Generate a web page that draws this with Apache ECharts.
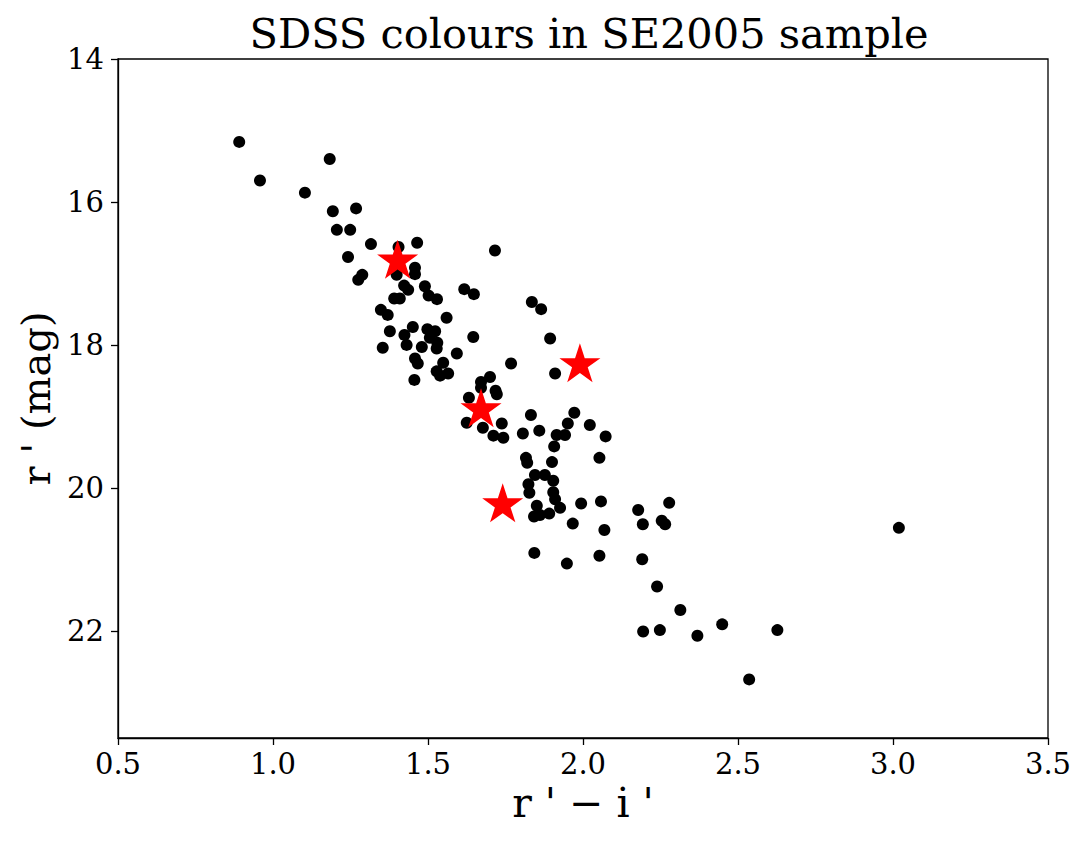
<!DOCTYPE html>
<html>
<head>
<meta charset="utf-8">
<title>SDSS colours in SE2005 sample</title>
<script src="https://cdn.jsdelivr.net/npm/echarts@6/dist/echarts.min.js"></script>
<style>
  html, body { margin: 0; padding: 0; background: #fff; }
  #chart { width: 1089px; height: 848px; }
</style>
</head>
<body>
<div id="chart"></div>
<script>
// r' - i' colour of the sample galaxies
const sampleColour = [
  0.891, 0.958, 1.183, 1.103, 1.193, 1.268, 1.206, 1.249, 1.316, 1.465,
  1.405, 1.716, 1.242, 1.458, 1.458, 1.288, 1.275, 1.399, 1.423, 1.436,
  1.490, 1.502, 1.529, 1.617, 1.648, 1.391, 1.409, 1.348, 1.370, 1.560,
  1.835, 1.865, 1.377, 1.451, 1.498, 1.523, 1.506, 1.424, 1.431, 1.354,
  1.480, 1.530, 1.528, 1.646, 1.894, 1.593, 1.458, 1.467, 1.549, 1.528,
  1.539, 1.565, 1.768, 1.910, 1.456, 1.700, 1.671, 1.671, 1.718, 1.722,
  1.632, 1.625, 1.677, 1.711, 1.743, 1.738, 1.832, 1.806, 1.859, 1.972,
  1.951, 1.915, 1.942, 1.907, 2.022, 2.073, 2.053, 1.816, 1.820, 1.900,
  1.845, 1.877, 1.904, 1.824, 1.827, 1.904, 1.910, 1.926, 1.851, 1.842,
  1.861, 1.891, 1.994, 2.058, 1.967, 2.069, 2.178, 2.193, 2.278, 2.254,
  2.265, 1.843, 2.053, 2.191, 1.948, 3.019, 2.239, 2.314, 2.194, 2.248,
  2.369, 2.449, 2.627, 2.536
];

// r' magnitude of the sample galaxies
const sampleMag = [
  15.16, 15.70, 15.40, 15.87, 16.13, 16.09, 16.39, 16.39, 16.59, 16.57,
  16.63, 16.68, 16.77, 16.92, 17.01, 17.02, 17.09, 17.02, 17.17, 17.23,
  17.18, 17.31, 17.36, 17.22, 17.29, 17.35, 17.35, 17.51, 17.58, 17.62,
  17.40, 17.50, 17.81, 17.75, 17.78, 17.81, 17.90, 17.86, 18.00, 18.04,
  18.03, 17.97, 18.05, 17.89, 17.91, 18.12, 18.19, 18.26, 18.25, 18.37,
  18.43, 18.40, 18.26, 18.40, 18.49, 18.45, 18.52, 18.60, 18.64, 18.69,
  18.74, 19.09, 19.16, 19.27, 19.30, 19.10, 18.98, 19.24, 19.20, 18.95,
  19.10, 19.26, 19.26, 19.42, 19.12, 19.28, 19.58, 19.58, 19.65, 19.64,
  19.82, 19.82, 19.90, 19.95, 20.07, 20.06, 20.16, 20.28, 20.25, 20.40,
  20.38, 20.36, 20.22, 20.19, 20.50, 20.59, 20.31, 20.51, 20.21, 20.46,
  20.51, 20.91, 20.95, 21.00, 21.06, 20.56, 21.38, 21.71, 22.01, 21.99,
  22.07, 21.91, 21.99, 22.68
];

// highlighted objects (red stars)
const starColour = [1.402, 1.990, 1.671, 1.741];
const starMag = [16.80, 18.25, 18.88, 20.21];

const xTicks = [0.5, 1.0, 1.5, 2.0, 2.5, 3.0, 3.5];
const yTicks = [14, 16, 18, 20, 22];

const serif = "'DejaVu Serif', serif";
const starPath =
  "path://M0,-1 L0.2245,-0.309 L0.951,-0.309 L0.363,0.118 L0.588,0.809 " +
  "L0,0.382 L-0.588,0.809 L-0.363,0.118 L-0.951,-0.309 L-0.2245,-0.309 Z";

const chart = echarts.init(document.getElementById("chart"), null, { renderer: "svg" });

chart.setOption({
  animation: false,
  backgroundColor: "#fff",
  title: {
    text: "SDSS colours in SE2005 sample",
    left: 584,
    top: 7,
    textAlign: "center",
    textStyle: { fontFamily: serif, fontSize: 41.5, fontWeight: "normal", color: "#000" }
  },
  grid: {
    left: 118,
    right: 41,
    top: 59,
    bottom: 110,
    show: true,
    borderColor: "#000",
    borderWidth: 1.3,
    backgroundColor: "#fff"
  },
  xAxis: {
    type: "value",
    min: 0.5,
    max: 3.5,
    interval: 0.5,
    name: "r ' \u2212 i '",
    nameLocation: "middle",
    nameGap: 42,
    nameTextStyle: { fontFamily: serif, fontSize: 41, color: "#000" },
    axisLine: { show: true, onZero: false, lineStyle: { color: "#000", width: 1.3 } },
    axisTick: { show: true, length: 7, lineStyle: { color: "#000", width: 1.3 }, customValues: xTicks },
    axisLabel: {
      margin: 11,
      fontFamily: serif,
      fontSize: 29,
      color: "#000",
      customValues: xTicks,
      formatter: (v) => v.toFixed(1)
    },
    splitLine: { show: false }
  },
  yAxis: {
    type: "value",
    inverse: true,
    min: 14,
    max: 23.5,
    interval: 2,
    name: "r ' (mag)",
    nameLocation: "middle",
    nameGap: 60,
    nameTextStyle: { fontFamily: serif, fontSize: 40, color: "#000" },
    axisLine: { show: true, onZero: false, lineStyle: { color: "#000", width: 1.3 } },
    axisTick: { show: true, length: 7, lineStyle: { color: "#000", width: 1.3 }, customValues: yTicks },
    axisLabel: {
      margin: 14,
      fontFamily: serif,
      fontSize: 29,
      color: "#000",
      customValues: yTicks
    },
    splitLine: { show: false }
  },
  series: [
    {
      type: "scatter",
      name: "sample",
      symbol: "circle",
      symbolSize: 12,
      itemStyle: { color: "#000", opacity: 1 },
      data: sampleColour.map((c, i) => [c, sampleMag[i]]),
      z: 2
    },
    {
      type: "scatter",
      name: "highlight",
      symbol: starPath,
      symbolSize: [41, 39],
      itemStyle: { color: "#ff0000", opacity: 1 },
      data: starColour.map((c, i) => [c, starMag[i]]),
      z: 3
    }
  ]
});
</script>
</body>
</html>
